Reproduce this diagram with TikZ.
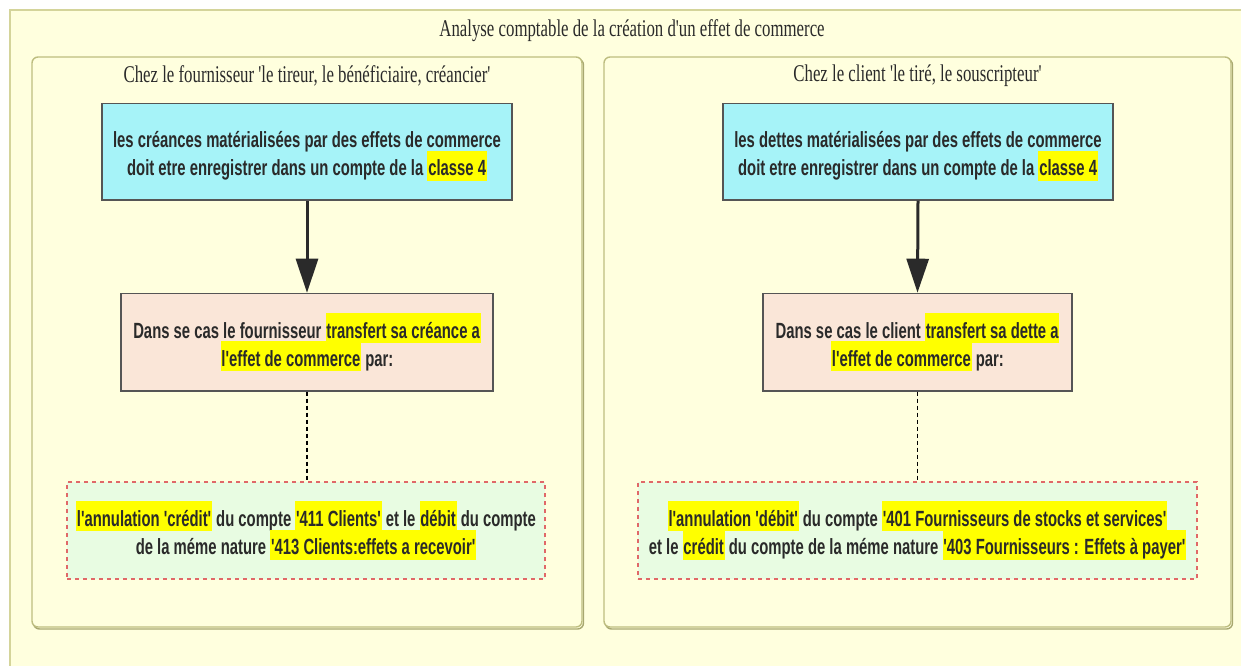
\documentclass[tikz,border=0pt]{standalone}
\usepackage{fontspec}
\usetikzlibrary{arrows.meta}
\newfontfamily\nodefont{Liberation Sans}[FakeStretch=0.675,Ligatures=TeXOff]
\newfontfamily\ttlfont{Liberation Serif}[FakeStretch=0.70,Ligatures=TeXOff]
\definecolor{bgy}{HTML}{FFFFDE}
\definecolor{outerc}{HTML}{D4D49A}
\definecolor{clc}{HTML}{BDBD80}
\definecolor{shc}{HTML}{A8A870}
\definecolor{bluef}{HTML}{A6F3F8}
\definecolor{peachf}{HTML}{FAE6D8}
\definecolor{greenf}{HTML}{E8FCE2}
\definecolor{redd}{HTML}{E06868}
\definecolor{hly}{HTML}{FFFF00}
\definecolor{txt}{HTML}{2A2A2A}
\definecolor{boxl}{HTML}{555555}
\setlength\lineskiplimit{-30pt}
\setlength\lineskip{0pt}
\newcommand\ls{\rule[-5pt]{0pt}{30pt}}
\newcommand\hl[1]{{\setlength\fboxsep{0pt}\colorbox{hly}{\ls\kern0.8pt#1\kern0.8pt}}}
\tikzset{
  cluster/.style={draw=clc, line width=1.4pt, fill=bgy, rounded corners=6pt, inner sep=0pt},
  clshadow/.style={draw=shc, line width=1.4pt, rounded corners=6pt},
  cltitle/.style={font=\ttlfont\fontsize{24}{28}\selectfont, text=txt, inner sep=0pt},
  basebox/.style={align=center, inner sep=0pt, text=txt,
    font=\nodefont\bfseries\fontsize{22}{28.4}\selectfont},
  bluebox/.style={basebox, draw=boxl, line width=1.3pt, fill=bluef},
  peachbox/.style={basebox, draw=boxl, line width=1.3pt, fill=peachf},
  greenbox/.style={basebox, draw=redd, line width=2pt, dash pattern=on 4pt off 4pt, fill=greenf},
  arr/.style={draw=txt, line width=3pt, -{Triangle[length=34pt,width=22pt]}},
  dashlink/.style={draw=black, line width=1.3pt, dash pattern=on 4pt off 3pt}
}
\begin{document}
\begin{tikzpicture}[x=1pt,y=-1pt]
\useasboundingbox (0,0) rectangle (1241,665);
\clip (0,0) rectangle (1241,665);
\fill[white] (0,0) rectangle (1241,665);
\draw[draw=outerc, line width=2pt, fill=bgy] (10,10) rectangle (1300,720);
\node[cltitle] (main) at (632,31) {Analyse comptable de la création d'un effet de commerce};

% left cluster
\draw[clshadow] (33.5,59) rectangle (583.5,629);
\node[cluster, minimum width=550pt, minimum height=570pt] (cl) at (307,342) {};
\node[cltitle] (clt) at (307,76) {Chez le fournisseur 'le tireur, le bénéficiaire, créancier'};
% right cluster
\draw[clshadow] (605.5,59) rectangle (1232.5,629);
\node[cluster, minimum width=627pt, minimum height=570pt] (cr) at (917.5,342) {};
\node[cltitle] (crt) at (917.5,76) {Chez le client 'le tiré, le souscripteur'};

% left column
\node[bluebox, minimum width=410pt, minimum height=96.7pt] (b1) at (307,151.7)
  {\ls les créances matérialisées par des effets de commerce\\\ls doit etre enregistrer dans un compte de la \hl{classe 4}};
\node[peachbox, minimum width=372pt, minimum height=97.7pt] (p1) at (307,342.2)
  {\ls Dans se cas le fournisseur \hl{transfert sa créance a}\\\hl{l'effet de commerce} par:};
\node[greenbox, minimum width=478pt, minimum height=97pt] (g1) at (306,530.5)
  {\hl{l'annulation 'crédit'} du compte \hl{'411 Clients'} et le \hl{débit} du compte\\\ls de la méme nature \hl{'413 Clients:effets a recevoir'}};

% right column
\node[bluebox, minimum width=390pt, minimum height=96.7pt] (b2) at (918,151.7)
  {\ls les dettes matérialisées par des effets de commerce\\\ls doit etre enregistrer dans un compte de la \hl{classe 4}};
\node[peachbox, minimum width=309pt, minimum height=97.7pt] (p2) at (917.5,342.2)
  {\ls Dans se cas le client \hl{transfert sa dette a}\\\hl{l'effet de commerce} par:};
\node[greenbox, minimum width=559pt, minimum height=97pt] (g2) at (917.5,530.5)
  {\hl{l'annulation 'débit'} du compte \hl{'401 Fournisseurs de stocks et services'}\\\ls et le \hl{crédit} du compte de la méme nature \hl{'403 Fournisseurs : Effets à payer'}};

% connectors
\draw[arr] (b1.south) -- (p1.north);
\draw[arr] (b2.south) -- (p2.north);
\draw[dashlink] (p1.south) -- (p1.south |- g1.north);
\draw[dashlink] (p2.south) -- (g2.north);
\end{tikzpicture}
\end{document}
